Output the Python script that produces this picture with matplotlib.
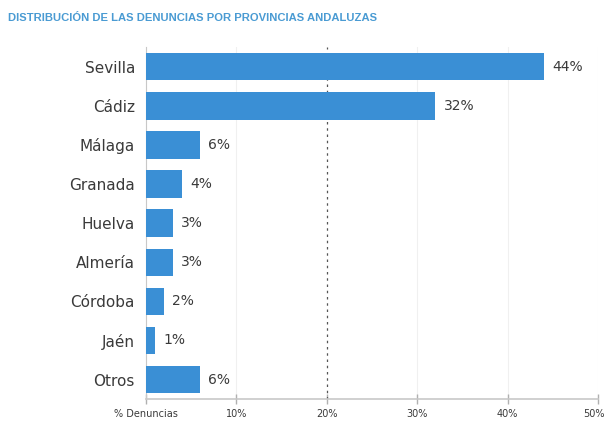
import numpy as np
import matplotlib.pyplot as plt
import matplotlib.transforms as mtransforms

provincias = ["Sevilla", "Cádiz", "Málaga", "Granada", "Huelva",
              "Almería", "Córdoba", "Jaén", "Otros"]
porcentajes = [44, 32, 6, 4, 3, 3, 2, 1, 6]
xticks = [0, 10, 20, 30, 40, 50]
xtick_labels = ["% Denuncias", "10%", "20%", "30%", "40%", "50%"]

BAR_COLOR = "#3a8fd5"
TEXT_COLOR = "#3a3a3a"

fig = plt.figure(figsize=(6.06, 4.25), dpi=100)
ax = fig.add_axes([0.241, 0.061, 0.746, 0.828])

y = np.arange(len(provincias))
ax.barh(y, porcentajes, height=0.7, color=BAR_COLOR, zorder=3)
ax.set_ylim(len(provincias) - 0.5, -0.5)
ax.set_xlim(0, 50)

# value labels next to each bar
for yi, v in zip(y, porcentajes):
    ax.text(v + 0.9, yi, f"{v}%", va="center", ha="left",
            fontsize=10, color=TEXT_COLOR, zorder=4)

ax.set_yticks(y)
ax.set_yticklabels(provincias, fontsize=11, color=TEXT_COLOR)
ax.tick_params(axis="y", length=0, pad=8)

ax.set_xticks(xticks)
ax.set_xticklabels(xtick_labels, fontsize=7, color=TEXT_COLOR)
ax.tick_params(axis="x", direction="inout", length=7, width=1,
               color="#b0b0b0", pad=4)
# nudge last label so it stays inside the figure
last = ax.get_xticklabels()[-1]
last.set_transform(last.get_transform() +
                   mtransforms.ScaledTranslation(-3 / 72, 0, fig.dpi_scale_trans))

# faint grid, dashed line at 20%
for t in xticks[1:]:
    if t == 20:
        ax.axvline(t, color="#555555", lw=0.9, ls=(0, (2, 3)), zorder=2)
    else:
        ax.axvline(t, color="#f0f0f0", lw=0.8, zorder=1)

for side in ["top", "right"]:
    ax.spines[side].set_visible(False)
ax.spines["left"].set_color("#c8c8c8")
ax.spines["bottom"].set_color("#c8c8c8")
ax.spines["bottom"].set_linewidth(1.2)

fig.text(0.013, 0.957, "DISTRIBUCIÓN DE LAS DENUNCIAS POR PROVINCIAS ANDALUZAS",
         fontsize=8.1, fontweight="bold", color="#4a9bd3",
         ha="left", va="center", family="Liberation Sans")

fig.savefig("out.png", dpi=100)
